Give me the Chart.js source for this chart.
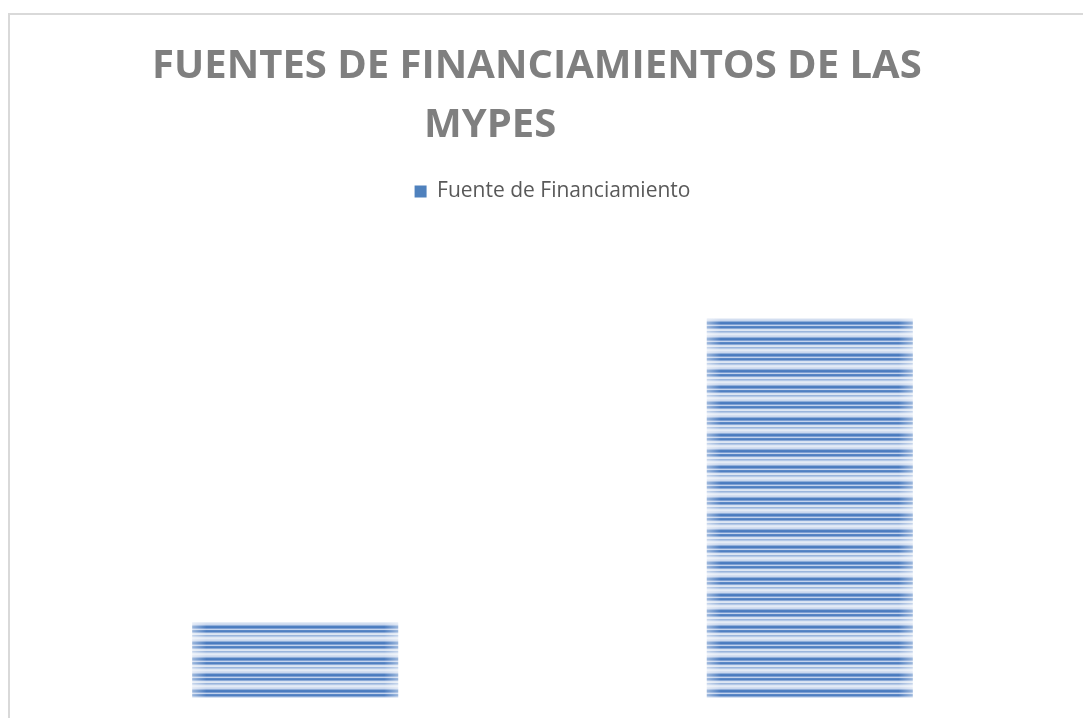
<!DOCTYPE html>
<html>
<head>
<meta charset="utf-8">
<script src="https://cdn.jsdelivr.net/npm/chart.js@4.4.1/dist/chart.umd.min.js"></script>
<style>
    html, body { margin: 0; padding: 0; background: #fff; overflow: hidden; }
    #wrap { width: 1083px; height: 718px; }
</style>
</head>
<body>
<div id="wrap"><canvas id="chart"></canvas></div>
<script>
// Data
const categories = ['Propio', 'Terceros'];
const seriesName = 'Fuente de Financiamiento';
const seriesValues = [1, 5];
// trailing spaces push each line a bit left, like the original wrap
const titleLines = ['FUENTES DE FINANCIAMIENTOS DE LAS   ', 'MYPES            '];

// Striped fill like the Excel pattern
function makeStripes() {
    const rows = [
        '#c9d7ee', '#8fadd9', '#4f7fc1', '#4a7bbf', '#7d9fd3', '#c2d2ec', '#5a87c6', '#4f7fc1',
        '#8aa9d7', '#d5e0f0', '#dde6f3', '#9ab5dc', '#b5c9e7', '#dbe5f3', '#e4ebf6', '#d3def0'
    ];
    const c = document.createElement('canvas');
    c.width = 8;
    c.height = rows.length;
    const cx = c.getContext('2d');
    rows.forEach((col, i) => {
        cx.fillStyle = col;
        cx.fillRect(0, i, 8, 1);
    });
    return cx.createPattern(c, 'repeat');
}

// Chart frame (only top and left edges are inside the picture)
const framePlugin = {
    id: 'frame',
    beforeDraw(chart) {
        const ctx = chart.ctx;
        ctx.save();
        ctx.strokeStyle = '#d9d9d9';
        ctx.lineWidth = 2;
        ctx.beginPath();
        ctx.moveTo(9, chart.height + 5);
        ctx.lineTo(9, 14);
        ctx.lineTo(chart.width + 5, 14);
        ctx.stroke();
        ctx.restore();
    }
};

// Soft edges on the bars
const edgePlugin = {
    id: 'edges',
    afterDatasetsDraw(chart) {
        const ctx = chart.ctx;
        chart.getDatasetMeta(0).data.forEach(bar => {
            const left = bar.x - bar.width / 2;
            const right = bar.x + bar.width / 2;
            const h = bar.base - bar.y;
            let g = ctx.createLinearGradient(left, 0, left + 14, 0);
            g.addColorStop(0, 'rgba(255,255,255,0.45)');
            g.addColorStop(1, 'rgba(255,255,255,0)');
            ctx.fillStyle = g;
            ctx.fillRect(left, bar.y, 14, h);
            g = ctx.createLinearGradient(right - 14, 0, right, 0);
            g.addColorStop(0, 'rgba(255,255,255,0)');
            g.addColorStop(1, 'rgba(255,255,255,0.45)');
            ctx.fillStyle = g;
            ctx.fillRect(right - 14, bar.y, 14, h);
        });
    }
};

const ctx = document.getElementById('chart').getContext('2d');
new Chart(ctx, {
    type: 'bar',
    data: {
        labels: categories,
        datasets: [{
            label: seriesName,
            data: seriesValues,
            backgroundColor: makeStripes(),
            borderWidth: 0,
            barPercentage: 0.4,
            categoryPercentage: 1
        }]
    },
    options: {
        responsive: true,
        maintainAspectRatio: false,
        animation: false,
        layout: {
            padding: { left: 38, right: 16, top: 37, bottom: 20 }
        },
        plugins: {
            title: {
                display: true,
                text: titleLines,
                color: '#7f7f7f',
                font: { family: 'Open Sans', size: 40, weight: 'bold', lineHeight: 1.475 },
                padding: { top: 0, bottom: 4 }
            },
            legend: {
                display: true,
                position: 'top',
                labels: {
                    color: '#595959',
                    font: { family: 'Open Sans', size: 21 },
                    boxWidth: 12,
                    boxHeight: 12,
                    padding: 22,
                    generateLabels: () => [{
                        text: seriesName,
                        fillStyle: '#4f81bd',
                        strokeStyle: '#4f81bd',
                        fontColor: '#595959',
                        lineWidth: 0,
                        datasetIndex: 0
                    }]
                }
            },
            tooltip: { enabled: false }
        },
        scales: {
            x: { display: false },
            y: { display: false, min: 0, max: 6.4 }
        }
    },
    plugins: [framePlugin, edgePlugin]
});
</script>
</body>
</html>
